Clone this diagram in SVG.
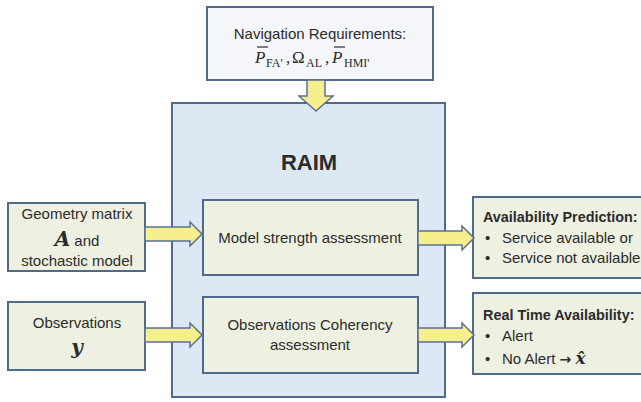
<svg xmlns="http://www.w3.org/2000/svg" width="641" height="402" viewBox="0 0 641 402">
<style>
.box{fill:#eef1e2;stroke:#52698a;stroke-width:2}
.big{fill:#dce9f5;stroke:#52698a;stroke-width:2}
.top{fill:#f4f6f9;stroke:#52698a;stroke-width:2}
.arr{fill:#f6ef8e;stroke:#5a7194;stroke-width:1.5;stroke-linejoin:miter}
text{font-family:"Liberation Sans",Arial,sans-serif;font-size:15px;fill:#2b2b2b}
.c{text-anchor:middle}
.b{font-weight:bold}
.m{font-family:"Liberation Serif","DejaVu Serif",serif;font-style:italic}
.mb{font-family:"DejaVu Serif","Liberation Serif",serif;font-style:italic;font-weight:bold}
.sub{font-family:"Liberation Serif",serif;font-style:normal;font-size:12px}
</style>
<rect width="641" height="402" fill="#ffffff"/>
<g id="raim">
<rect class="big" x="172" y="103" width="273" height="294"/>
<text class="c b" x="309" y="170" style="font-size:22px">RAIM</text>
</g>
<g id="nav-req">
<rect class="top" x="207" y="7" width="226" height="73"/>
<text class="c" x="320" y="39">Navigation Requirements:</text>
<text class="m" y="63" style="font-size:17px"><tspan x="255">P</tspan><tspan class="sub" x="266" y="67">FA'</tspan><tspan x="286" y="63" style="font-style:normal">,</tspan><tspan x="292" style="font-style:normal">Ω</tspan><tspan class="sub" x="306" y="67">AL</tspan><tspan x="325" y="63" style="font-style:normal">,</tspan><tspan x="332">P</tspan><tspan class="sub" x="344" y="67">HMI'</tspan></text>
<line x1="257" y1="47" x2="268" y2="47" stroke="#2b2b2b" stroke-width="1.2"/>
<line x1="334" y1="47" x2="345" y2="47" stroke="#2b2b2b" stroke-width="1.2"/>
</g>
<g id="geometry">
<rect class="box" x="8" y="203" width="137" height="68"/>
<text class="c" x="77" y="219">Geometry matrix</text>
<text class="c" x="77" y="246"><tspan class="mb" style="font-size:20px">A</tspan><tspan>  and</tspan></text>
<text class="c" x="77" y="266">stochastic model</text>
</g>
<g id="observations">
<rect class="box" x="8" y="302" width="137" height="68"/>
<text class="c" x="77" y="328">Observations</text>
<text class="c mb" x="77" y="354" style="font-size:20px">y</text>
</g>
<g id="model-strength">
<rect class="box" x="203" y="200" width="215" height="75"/>
<text class="c" x="310" y="243">Model strength assessment</text>
</g>
<g id="coherency">
<rect class="box" x="203" y="297" width="215" height="76"/>
<text class="c" x="310" y="330">Observations Coherency</text>
<text class="c" x="310" y="350">assessment</text>
</g>
<g id="availability">
<rect class="box" x="473" y="197" width="190" height="81"/>
<text class="b" x="483" y="222" style="font-size:14.4px">Availability Prediction:</text>
<text x="485" y="243">•</text><text x="502" y="243">Service available or</text>
<text x="485" y="263">•</text><text x="502" y="263">Service not available</text>
</g>
<g id="realtime">
<rect class="box" x="473" y="293" width="190" height="81"/>
<text class="b" x="483" y="320" style="font-size:14.4px">Real Time Availability:</text>
<text x="485" y="341">•</text><text x="502" y="341">Alert</text>
<text x="485" y="364">•</text><text x="502" y="364">No Alert <tspan style="font-family:'DejaVu Sans',sans-serif;font-weight:bold;font-size:14px">→</tspan> <tspan class="mb" style="font-size:17px">x̂</tspan></text>
</g>
<g id="connectors">
<polygon class="arr" points="307,80 325,80 325,96 333,96 316,111 299,96 307,96"/>
<polygon class="arr" points="145,227 190,227 190,222 202,234 190,246 190,241 145,241"/>
<polygon class="arr" points="145,328 190,328 190,323 202,335 190,347 190,342 145,342"/>
<polygon class="arr" points="418,231 462,231 462,226 474,238 462,250 462,245 418,245"/>
<polygon class="arr" points="418,328 462,328 462,323 474,335 462,347 462,342 418,342"/>
</g>
</svg>
